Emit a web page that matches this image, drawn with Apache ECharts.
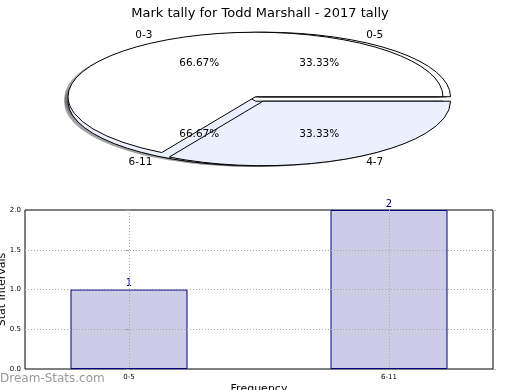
<!DOCTYPE html>
<html><head><meta charset="utf-8">
<script src="https://cdn.jsdelivr.net/npm/echarts@6/dist/echarts.min.js"></script>
<style>html,body{margin:0;padding:0;background:#fff}#c{width:520px;height:390px}</style>
</head><body><div id="c"></div>
<script>
// ---------- data ----------
const titleText = 'Mark tally for Todd Marshall - 2017 tally';
const pieALabels = ['0-3', '4-7'];
const pieAValues = [2, 1];
const pieBLabels = ['0-5', '6-11'];
const pieBValues = [1, 2];
const barCategories = ['0-5', '6-11'];
const barValues = [1, 2];
const yTickValues = [0, 0.5, 1, 1.5, 2];
const yAxisName = 'Stat Intervals';
const xAxisName = 'Frequency';
const watermark = 'Dream-Stats.com';

// ---------- layout / style ----------
const FONT = 'DejaVu Sans';
const PIE = { cx: 255.5, cy: 96.7, rx: 187.5, ry: 64.5 };
const WHITE = '#ffffff', BLUE = '#eaf0fd';
const pieAStyle = { colors: [WHITE, BLUE], offsets: [[0, 0], [7.5, 4.5]] };
const pieBStyle = { colors: [WHITE, BLUE], offsets: [[7.5, 0], [0, 4.5]] };
const SHADOW = [-3.75, 1.3];

function buildWedges(values, labels, style) {
  const total = values.reduce((a, b) => a + b, 0);
  let acc = 0;
  return values.map((v, i) => {
    const a1 = acc / total * 360;
    acc += v;
    const a2 = acc / total * 360;
    return { a1, a2, mid: (a1 + a2) / 2, label: labels[i],
      pct: (v / total * 100).toFixed(2) + '%', color: style.colors[i],
      dx: style.offsets[i][0], dy: style.offsets[i][1] };
  });
}
const wedgesA = buildWedges(pieAValues, pieALabels, pieAStyle);
const wedgesB = buildWedges(pieBValues, pieBLabels, pieBStyle);

function wedgePath(cx, cy, rx, ry, a1, a2) {
  const r = Math.PI / 180;
  const x1 = cx + rx * Math.cos(a1 * r), y1 = cy - ry * Math.sin(a1 * r);
  const x2 = cx + rx * Math.cos(a2 * r), y2 = cy - ry * Math.sin(a2 * r);
  const large = (a2 - a1) > 180 ? 1 : 0;
  return `M${cx} ${cy}L${x1} ${y1}A${rx} ${ry} 0 ${large} 0 ${x2} ${y2}Z`;
}
function shadeColor(hex) {
  const n = parseInt(hex.slice(1), 16);
  const r = Math.round(((n >> 16) & 255) * 0.3), g = Math.round(((n >> 8) & 255) * 0.3), b = Math.round((n & 255) * 0.3);
  return `rgba(${r},${g},${b},0.5)`;
}

function wedgeSeries(wedges, z2, shadow) {
  return {
    type: 'custom', coordinateSystem: 'none', silent: true, z: 2,
    data: wedges.map((w, i) => [i]),
    renderItem: (params) => {
      const w = wedges[params.dataIndex];
      const cx = PIE.cx + w.dx + (shadow ? SHADOW[0] : 0);
      const cy = PIE.cy + w.dy + (shadow ? SHADOW[1] : 0);
      return {
        type: 'path', z2,
        shape: { pathData: wedgePath(cx, cy, PIE.rx, PIE.ry, w.a1, w.a2) },
        style: shadow ? { fill: shadeColor(w.color), stroke: null }
                      : { fill: w.color, stroke: '#000', lineWidth: 1 }
      };
    }
  };
}

function labelSeries(wedges) {
  return {
    type: 'custom', coordinateSystem: 'none', silent: true, z: 2,
    data: wedges.map((w, i) => [i]),
    renderItem: (params) => {
      const w = wedges[params.dataIndex];
      const r = Math.PI / 180;
      const cx = PIE.cx + w.dx, cy = PIE.cy + w.dy;
      const c = Math.cos(w.mid * r), s = Math.sin(w.mid * r);
      const lx = cx + 1.1 * PIE.rx * c, ly = cy - 1.1 * PIE.ry * s;
      const px = cx + 0.6 * PIE.rx * c, py = cy - 0.6 * PIE.ry * s;
      return {
        type: 'group', children: [
          { type: 'text', z2: 10, x: lx, y: ly, style: { text: w.label, fill: '#000', fontSize: 10.5, fontFamily: FONT,
              align: c > 0 ? 'left' : 'right', verticalAlign: 'middle' } },
          { type: 'text', z2: 10, x: px, y: py, style: { text: w.pct, fill: '#000', fontSize: 10.5, fontFamily: FONT,
              align: 'center', verticalAlign: 'middle' } }
        ]
      };
    }
  };
}

const chart = echarts.init(document.getElementById('c'), null, { renderer: 'canvas' });
const dotted = { color: '#aaaaaa', type: [1, 2], width: 1 };
chart.setOption({
  animation: false,
  backgroundColor: '#fff',
  textStyle: { fontFamily: FONT },
  title: { text: titleText, left: 'center', top: 2,
    textStyle: { fontSize: 13, fontWeight: 'normal', color: '#000', fontFamily: FONT } },
  graphic: [{ type: 'text', left: 0, top: 373, silent: true,
    style: { text: watermark, fontSize: 12, fill: '#999999', fontFamily: FONT } }],
  grid: { left: 25, right: 27, top: 210, bottom: 21, show: true, borderColor: '#000', borderWidth: 1,
    containLabel: false, outerBoundsMode: 'none' },
  xAxis: {
    type: 'value', min: -0.4, max: 1.4, splitNumber: 2, minInterval: 1, maxInterval: 1, z: 3,
    axisLine: { show: false }, axisTick: { show: false },
    axisLabel: { fontSize: 7, color: '#000', margin: 5, showMinLabel: false, showMaxLabel: false,
      formatter: v => { const k = Math.round(v); return Math.abs(v - k) < 1e-9 && barCategories[k] != null ? barCategories[k] : ''; } },
    splitLine: { show: true, showMinLine: false, showMaxLine: false, lineStyle: dotted },
    name: xAxisName, nameLocation: 'middle', nameGap: 15, nameMoveOverlap: false,
    nameTextStyle: { fontSize: 11, color: '#000', fontFamily: FONT }
  },
  yAxis: [{
    type: 'value', min: yTickValues[0], max: yTickValues[yTickValues.length - 1],
    interval: yTickValues[1] - yTickValues[0], z: 3,
    axisLine: { show: false },
    axisTick: { show: true, length: 3, lineStyle: { color: '#999' } },
    axisLabel: { fontSize: 7, color: '#000', margin: 4, formatter: v => v.toFixed(1) },
    splitLine: { show: true, showMinLine: false, showMaxLine: false, lineStyle: dotted },
    name: yAxisName, nameLocation: 'middle', nameGap: 17, nameMoveOverlap: false,
    nameTextStyle: { fontSize: 11, color: '#000', fontFamily: FONT }
  }, {
    type: 'value', position: 'right', min: yTickValues[0], max: yTickValues[yTickValues.length - 1],
    interval: yTickValues[1] - yTickValues[0],
    axisLine: { show: false }, axisLabel: { show: false }, splitLine: { show: false },
    axisTick: { show: true, length: 3, lineStyle: { color: '#bbb' } }
  }],
  series: [
    wedgeSeries(wedgesB, 0, true),
    wedgeSeries(wedgesA, 1, true),
    wedgeSeries(wedgesB, 2, false),
    wedgeSeries(wedgesA, 3, false),
    labelSeries(wedgesB),
    labelSeries(wedgesA),
    {
      type: 'bar', xAxisIndex: 0, yAxisIndex: 0, z: 2,
      data: barValues.map((v, i) => [i, v]), barWidth: 117,
      itemStyle: { color: '#ccccE6', borderColor: '#000080', borderWidth: 1 },
      label: { show: true, position: 'top', distance: 1, color: '#000080', fontSize: 10 }
    }
  ]
});
</script></body></html>
